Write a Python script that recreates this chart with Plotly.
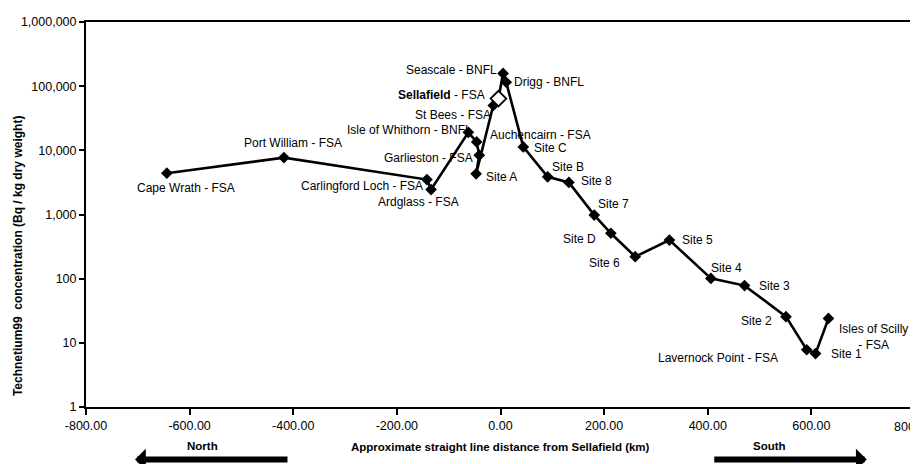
import math
import plotly.graph_objects as go

# ---- data ----
site_names = [
    "Cape Wrath - FSA", "Port William - FSA", "Carlingford Loch - FSA", "Ardglass - FSA",
    "Isle of Whithorn - BNFL", "Auchencairn - FSA", "Garlieston - FSA", "Site A",
    "St Bees - FSA", "Sellafield - FSA", "Seascale - BNFL", "Drigg - BNFL",
    "Site C", "Site B", "Site 8", "Site 7", "Site D", "Site 6", "Site 5",
    "Site 4", "Site 3", "Site 2", "Lavernock Point - FSA", "Site 1", "Isles of Scilly - FSA",
]
distance_km = [-644, -418, -142, -134, -62, -46, -41, -47, -14, -4, 5, 11,
               44, 91, 132, 181, 213, 260, 326, 406, 471, 551, 591, 608, 633]
tc99_bq_kg = [4400, 7700, 3500, 2450, 19100, 13500, 8400, 4300, 50000, 64000, 158000, 115000,
              11300, 3860, 3160, 980, 510, 220, 400, 101, 78, 25.6, 7.8, 6.8, 24]

x_tick_values = [-800, -600, -400, -200, 0, 200, 400, 600, 800]
x_tick_labels = ["-800.00", "-600.00", "-400.00", "-200.00", "0.00", "200.00", "400.00", "600.00", "800"]
y_tick_values = [1, 10, 100, 1000, 10000, 100000, 1000000]
y_tick_labels = ["1", "10", "100", "1,000", "10,000", "100,000", "1,000,000"]

# ---- label placement (anchor, dx px, dy px downward) ----
label_place = {
    "Cape Wrath - FSA": ("center", 19, 15),
    "Port William - FSA": ("center", 9, -15),
    "Carlingford Loch - FSA": ("right", -2, 6),
    "Ardglass - FSA": ("center", -13, 12),
    "Isle of Whithorn - BNFL": ("right", 6, -2),
    "Auchencairn - FSA": ("left", 11, -7),
    "Garlieston - FSA": ("right", -4, 3),
    "Site A": ("left", 8, 3),
    "St Bees - FSA": ("right", 0, 10),
    "Sellafield - FSA": ("right", -11, -4),
    "Seascale - BNFL": ("right", -4, -3),
    "Drigg - BNFL": ("left", 6, 0),
    "Site C": ("left", 9, 1),
    "Site B": ("left", 2, -10),
    "Site 8": ("left", 10, -1),
    "Site 7": ("left", 2, -11),
    "Site D": ("right", -13, 6),
    "Site 6": ("right", -13, 6),
    "Site 5": ("left", 11, 0),
    "Site 4": ("left", -2, -10),
    "Site 3": ("left", 12, 0),
    "Site 2": ("right", -12, 4),
    "Lavernock Point - FSA": ("right", -27, 8),
    "Site 1": ("left", 13, 0),
    "Isles of Scilly - FSA": ("center", 45, 19),
}

FONT = "Arial, Liberation Sans, sans-serif"

is_main = [n.startswith("Sellafield") for n in site_names]
marker_colors = ["white" if m else "black" for m in is_main]
marker_sizes = [12 if m else 9 for m in is_main]
marker_line_w = [1.8 if m else 0 for m in is_main]

fig = go.Figure()
fig.add_trace(go.Scatter(
    x=distance_km, y=tc99_bq_kg, mode="lines+markers",
    line=dict(color="black", width=2.6),
    marker=dict(symbol="diamond", color=marker_colors, size=marker_sizes, opacity=1,
                line=dict(color="black", width=marker_line_w)),
    showlegend=False, hoverinfo="text", text=site_names,
))

annotations = []
for name, xv, yv in zip(site_names, distance_km, tc99_bq_kg):
    anchor, dx, dy = label_place[name]
    text = name
    if name.startswith("Sellafield"):
        text = "<b>Sellafield</b> - FSA"
    elif name.startswith("Isles of Scilly"):
        text = "Isles of Scilly<br>- FSA"
    annotations.append(dict(
        x=xv, y=math.log10(yv), xref="x", yref="y", text=text,
        showarrow=False, xanchor=anchor, yanchor="middle",
        xshift=dx, yshift=-dy, align="center",
        font=dict(family=FONT, size=12, color="black"),
    ))

# last x tick label sits at the right page edge: draw it right-aligned so it stays whole
annotations.append(dict(
    x=x_tick_values[-1], y=-0.052, xref="x", yref="paper", text=x_tick_labels[-1],
    showarrow=False, xanchor="right", yanchor="middle", xshift=2,
    font=dict(family=FONT, size=12.5, color="black"),
))

# axis titles and direction markers
annotations += [
    dict(x=-0.082, y=0.392, xref="paper", yref="paper", showarrow=False, textangle=-90,
         text="<b>Technetium99  concentration (Bq / kg dry weight)</b>",
         font=dict(family=FONT, size=12, color="black"), xanchor="center", yanchor="middle"),
    dict(x=0.5006, y=-0.104, xref="paper", yref="paper", showarrow=False,
         text="<b>Approximate straight line distance from Sellafield (km)</b>",
         font=dict(family=FONT, size=11.5, color="black"), xanchor="center", yanchor="middle"),
    dict(x=0.1405, y=-0.101, xref="paper", yref="paper", showarrow=False, text="<b>North</b>",
         font=dict(family=FONT, size=11.5, color="black"), xanchor="center", yanchor="middle"),
    dict(x=0.8245, y=-0.101, xref="paper", yref="paper", showarrow=False, text="<b>South</b>",
         font=dict(family=FONT, size=11.5, color="black"), xanchor="center", yanchor="middle"),
    dict(x=0.0591, y=-0.1364, xref="paper", yref="paper", text="", showarrow=True,
         ax=154, ay=0, arrowhead=1, arrowsize=0.6, arrowwidth=6, arrowcolor="black", standoff=0),
    dict(x=0.9418, y=-0.1364, xref="paper", yref="paper", text="", showarrow=True,
         ax=-154, ay=0, arrowhead=1, arrowsize=0.6, arrowwidth=6, arrowcolor="black", standoff=0),
]

fig.update_layout(
    width=910, height=456,
    margin=dict(l=78, r=3, t=14, b=57, autoexpand=False),
    paper_bgcolor="white", plot_bgcolor="white",
    font=dict(family=FONT, size=12.5, color="black"),
    annotations=annotations,
)
fig.update_xaxes(
    range=[-800, 800], tickvals=x_tick_values, ticktext=x_tick_labels[:-1] + [""],
    showgrid=False, zeroline=False, showline=True, linecolor="black", linewidth=2,
    mirror=True, ticks="outside", ticklen=6, tickwidth=1.5, tickcolor="black",
    tickfont=dict(family=FONT, size=12.5, color="black"), automargin=False,
)
fig.update_yaxes(
    type="log", range=[0, 6], tickvals=y_tick_values, ticktext=y_tick_labels,
    showgrid=False, zeroline=False, showline=True, linecolor="black", linewidth=2,
    mirror=True, ticks="outside", ticklen=5, tickwidth=1.5, tickcolor="black",
    tickfont=dict(family=FONT, size=12.5, color="black"), automargin=False,
)

fig.write_html("out.html")
